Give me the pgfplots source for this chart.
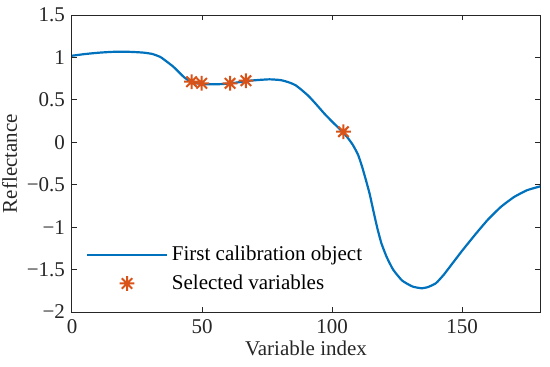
\documentclass[border=0pt]{standalone}
\usepackage{fontspec}
\setmainfont{Liberation Serif}
\usepackage{pgfplots}
\pgfplotsset{compat=1.18}
\definecolor{mblue}{rgb}{0,0.447,0.741}
\definecolor{morange}{rgb}{0.85,0.325,0.098}
\definecolor{maxis}{rgb}{0.15,0.15,0.15}
\pgfdeclareplotmark{mstar}{%
 \pgfpathmoveto{\pgfqpoint{-\pgfplotmarksize}{0pt}}\pgfpathlineto{\pgfqpoint{\pgfplotmarksize}{0pt}}%
 \pgfpathmoveto{\pgfqpoint{0pt}{-\pgfplotmarksize}}\pgfpathlineto{\pgfqpoint{0pt}{\pgfplotmarksize}}%
 \pgfpathmoveto{\pgfqpoint{-0.707\pgfplotmarksize}{-0.707\pgfplotmarksize}}\pgfpathlineto{\pgfqpoint{0.707\pgfplotmarksize}{0.707\pgfplotmarksize}}%
 \pgfpathmoveto{\pgfqpoint{-0.707\pgfplotmarksize}{0.707\pgfplotmarksize}}\pgfpathlineto{\pgfqpoint{0.707\pgfplotmarksize}{-0.707\pgfplotmarksize}}%
 \pgfusepathqstroke}
\begin{document}
\begin{tikzpicture}
\begin{axis}[
  scale only axis, width=234pt, height=148.5pt,
  at={(0,0)}, anchor=south west,
  xmin=0, xmax=180, ymin=-2, ymax=1.5,
  xtick={0,50,100,150}, xticklabels={0,50,100,150},
  ytick={-2,-1.5,-1,-0.5,0,0.5,1,1.5},
  yticklabels={−2,−1.5,−1,−0.5,0,0.5,1,1.5},
  tick align=inside, major tick length=2.5pt,
  axis line style={maxis, line width=0.5pt},
  tick style={maxis, line width=0.5pt},
  ticklabel style={font=\fontsize{10.5}{12}\selectfont, text=black!85},
  label style={font=\fontsize{10.5}{12}\selectfont, text=black!85},
  xlabel={Variable index}, ylabel={Reflectance},
  xlabel style={yshift=3pt},
  ylabel style={yshift=-2pt},
  legend cell align=left,
  legend style={draw=none, fill=none, at={(0.025,0.045)}, anchor=south west,
    font=\fontsize{10.5}{12}\selectfont, row sep=1.5pt, inner sep=1pt},
  legend image code/.code={\draw[#1,mark repeat=2,mark phase=2] plot coordinates {(0cm,0cm) (0.7cm,0cm) (1.4cm,0cm)};},
]
\addplot[mblue, line width=1.1pt, smooth, tension=0.3] coordinates {
(0,1.02) (5,1.04) (10,1.055) (15,1.065) (20,1.068) (25,1.062) (28,1.055) (31,1.04)
(34,1.005) (36.5,0.95) (39,0.89) (41,0.83) (43,0.77) (45,0.725) (47,0.70)
(50,0.687) (53,0.683) (56,0.684) (59,0.689) (62,0.698) (65,0.712) (68,0.725)
(72,0.735) (76,0.742) (80,0.734) (82,0.72) (84,0.70) (86,0.672) (88,0.625) (91,0.545)
(94,0.445) (97,0.34) (100,0.245) (102,0.185) (104,0.125) (106,0.055) (108,-0.03)
(110,-0.145) (111.5,-0.28) (113,-0.44) (114.5,-0.61) (116,-0.82) (117.5,-1.02)
(119,-1.19) (121,-1.35) (123.5,-1.5) (127,-1.63) (131,-1.70) (134.5,-1.72)
(137,-1.705) (140,-1.66) (143,-1.56) (146,-1.44) (150,-1.28) (155,-1.09)
(160,-0.91) (165,-0.76) (170,-0.645) (175,-0.565) (180,-0.52)};
\addlegendentry{First calibration object}
\addplot[only marks, mark=mstar, mark size=3.7pt, morange, line width=1.0pt] coordinates {
(46,0.714) (49.9,0.695) (60.8,0.695) (66.9,0.726) (104.4,0.125)};
\addlegendentry{Selected variables}
\end{axis}
\pgfresetboundingbox
\path (-36pt,-27pt) rectangle (239pt,156pt);
\end{tikzpicture}
\end{document}
